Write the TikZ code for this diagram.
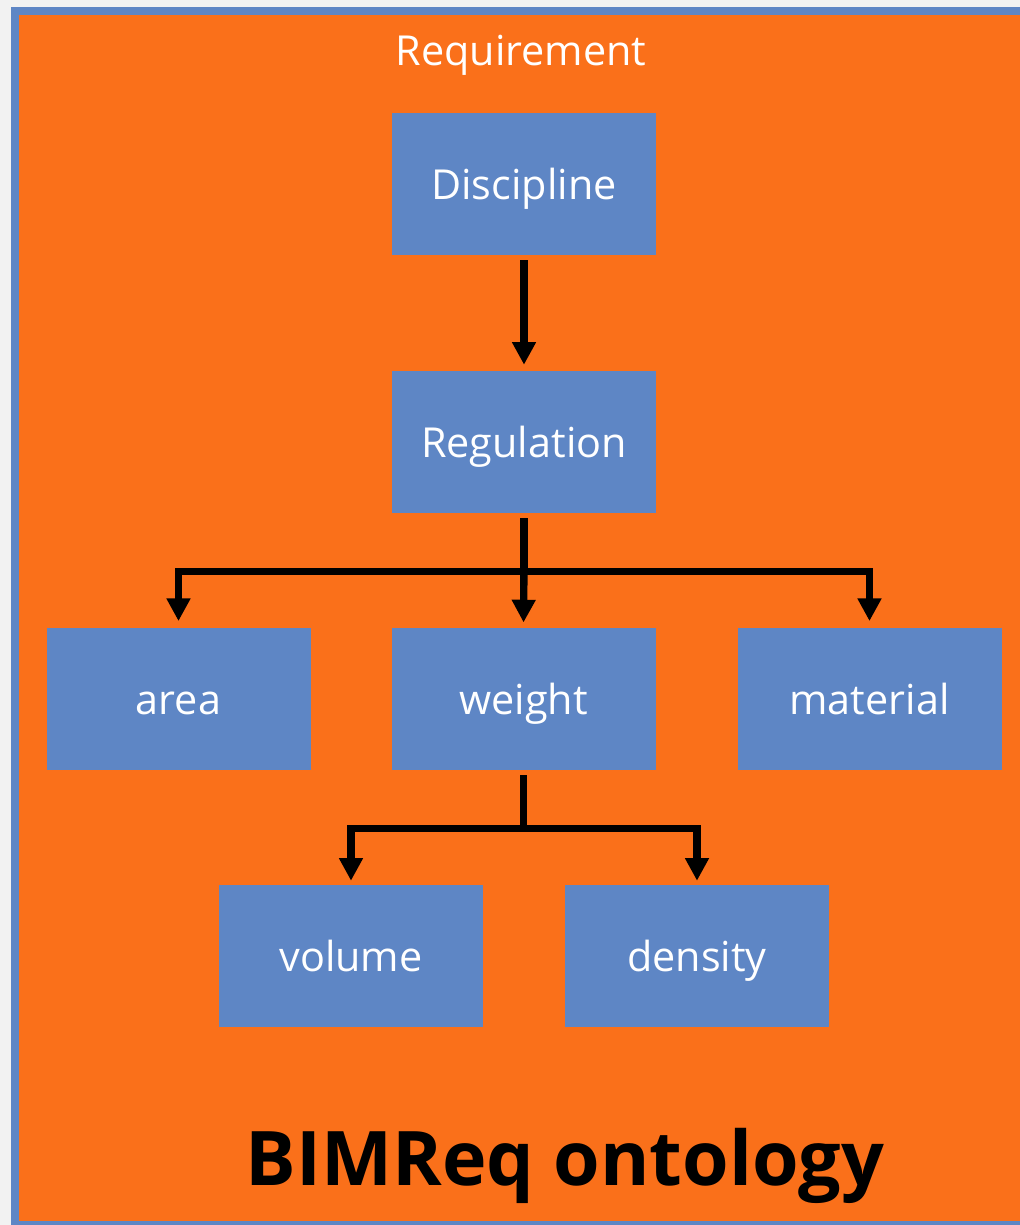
\documentclass[tikz,border=0pt]{standalone}
\usepackage{fontspec}
\setmainfont{Open Sans}
\usetikzlibrary{arrows.meta}
\definecolor{pagegray}{HTML}{F2F2F2}
\definecolor{boxblue}{RGB}{94,134,197}
\definecolor{panelorange}{RGB}{250,112,26}
\begin{document}
\begin{tikzpicture}[x=0.75pt,y=-0.75pt,
  concept/.style={fill=boxblue,draw=none,inner sep=0pt,
    minimum width=198pt,minimum height=106.5pt,
    text=white,font=\fontsize{31}{36}\selectfont,
    text height=28pt,text depth=4.5pt},
  link/.style={line width=5.5pt,draw=black},
  arr/.style={link,-{Triangle[length=17pt,width=17pt]}}]
% page and framed panel
\useasboundingbox (0,0) rectangle (1020,1225);
\fill[pagegray] (0,0) rectangle (1020,1225);
\fill[boxblue] (11,7) rectangle (1020,1225);
\fill[panelorange] (19,15) rectangle (1020,1221);
% titles
\node[anchor=base,text=white,font=\fontsize{31}{36}\selectfont] (req) at (521,65) {Requirement};
\node[anchor=base,text=black,font=\fontsize{56.5}{64}\bfseries] (title) at (565,1185) {BIMReq ontology};
% concepts
\node[concept] (disc) at (524,184) {Discipline};
\node[concept] (reg) at (524,442) {Regulation};
\node[concept] (area) at (178.5,699) {area};
\node[concept] (weight) at (523.5,699) {weight};
\node[concept] (mat) at (869.5,699) {material};
\node[concept] (vol) at (351,956) {volume};
\node[concept] (dens) at (697,956) {density};
% hierarchy links
\draw[arr,shorten <=3.75pt,shorten >=4.5pt] (disc.south) -- (reg.north);
\draw[link,shorten <=3.75pt] (reg.south) -- ++(0,58);
\draw[arr,shorten >=5pt] (reg.south) ++(0,58) -| (area.north);
\draw[arr,shorten >=5pt] (reg.south) ++(0,58) -| (mat.north);
\draw[arr,shorten >=4pt] (reg.south) ++(0,50) -- (weight.north);
\draw[link,shorten <=3.75pt] (weight.south) -- ++(0,58);
\draw[arr,shorten >=3pt] (weight.south) ++(0,58) -| (vol.north);
\draw[arr,shorten >=3pt] (weight.south) ++(0,58) -| (dens.north);
\end{tikzpicture}
\end{document}
